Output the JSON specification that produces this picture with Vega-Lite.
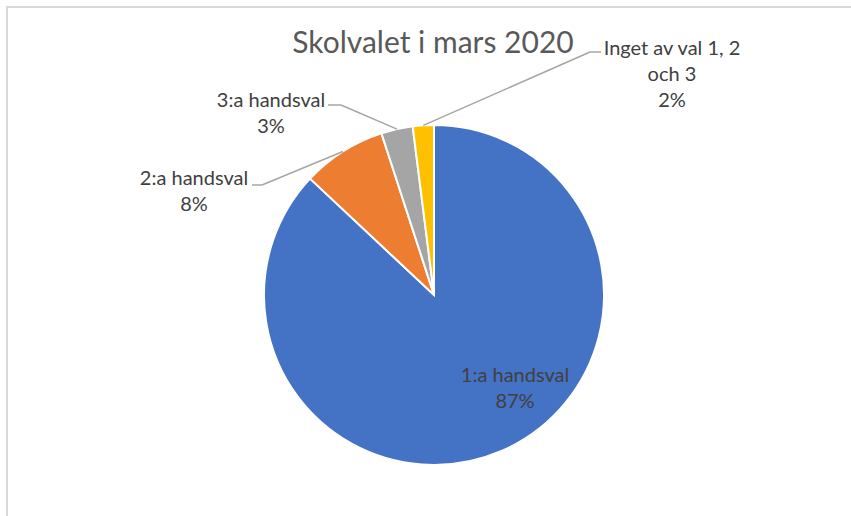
{
  "$schema": "https://vega.github.io/schema/vega-lite/v6.json",
  "width": 844,
  "height": 509,
  "autosize": {"type": "none"},
  "padding": {"left": 7, "top": 7, "right": 0, "bottom": 0},
  "background": "white",
  "config": {
    "view": {"stroke": "#d9d9d9", "strokeWidth": 2, "strokeDash": [844, 1353, 509]},
    "font": "Lato",
    "axis": {"disable": true}
  },
  "title": {
    "text": "Skolvalet i mars 2020",
    "font": "Lato",
    "fontSize": 30,
    "fontWeight": "normal",
    "color": "#595959",
    "anchor": "middle",
    "frame": "group",
    "orient": "top",
    "baseline": "alphabetic",
    "offset": -48,
    "dx": 4,
    "dy": 28
  },
  "data": {
    "values": [
      {"category": "1:a handsval", "label": "1:a handsval", "pct": 87, "order": 1},
      {"category": "2:a handsval", "label": "2:a handsval", "pct": 8, "order": 2},
      {"category": "3:a handsval", "label": "3:a handsval", "pct": 3, "order": 3},
      {"category": "Inget av val 1, 2 och 3", "label": "Inget av val 1, 2\noch 3", "pct": 2, "order": 4}
    ]
  },
  "transform": [
    {"window": [{"op": "sum", "field": "pct", "as": "cum"}], "sort": [{"field": "order"}], "frame": [null, 0]},
    {"calculate": "2*PI*(datum.cum - datum.pct/2)/100", "as": "mid"},
    {"calculate": "sin(datum.mid)", "as": "sx"},
    {"calculate": "cos(datum.mid)", "as": "sy"},
    {"calculate": "datum.label + '\\n' + datum.pct + '%'", "as": "text"}
  ],
  "layer": [
    {
      "mark": {"type": "arc", "outerRadius": 170, "stroke": "white", "strokeWidth": 2},
      "encoding": {
        "theta": {"field": "pct", "type": "quantitative", "stack": true},
        "order": {"field": "order", "type": "quantitative"},
        "color": {
          "field": "category",
          "type": "nominal",
          "scale": {
            "domain": ["1:a handsval", "2:a handsval", "3:a handsval", "Inget av val 1, 2 och 3"],
            "range": ["#4472C4", "#ED7D31", "#A5A5A5", "#FFC000"]
          },
          "legend": null
        },
        "x": {"datum": 0, "type": "quantitative", "scale": {"domain": [-2.511765, 2.452941], "nice": false, "zero": false}, "axis": null},
        "y": {"datum": 0, "type": "quantitative", "scale": {"domain": [-1.3, 1.694118], "nice": false, "zero": false}, "axis": null}
      }
    },
    {
      "transform": [{"filter": "datum.order === 1"}],
      "mark": {"type": "text", "font": "Lato", "fontSize": 20, "color": "#404040", "align": "center", "baseline": "alphabetic", "lineBreak": "\n", "lineHeight": 26},
      "encoding": {
        "text": {"field": "text"},
        "x": {"datum": 0.4765, "type": "quantitative"},
        "y": {"datum": -0.5118, "type": "quantitative"}
      }
    },
    {
      "transform": [{"filter": "datum.order === 2"}],
      "layer": [
        {
          "mark": {"type": "rule", "color": "#a6a6a6", "strokeWidth": 1.5},
          "encoding": {
            "x": {"field": "sx", "type": "quantitative"},
            "y": {"field": "sy", "type": "quantitative"},
            "x2": {"datum": -1.0118},
            "y2": {"datum": 0.6471}
          }
        },
        {
          "mark": {"type": "rule", "color": "#a6a6a6", "strokeWidth": 1.5},
          "encoding": {
            "x": {"datum": -1.0118, "type": "quantitative"},
            "x2": {"datum": -1.0706},
            "y": {"datum": 0.6471, "type": "quantitative"}
          }
        },
        {
          "mark": {"type": "text", "font": "Lato", "fontSize": 20, "color": "#404040", "align": "center", "baseline": "alphabetic", "lineBreak": "\n", "lineHeight": 26},
          "encoding": {
            "text": {"field": "text"},
            "x": {"datum": -1.4118, "type": "quantitative"},
            "y": {"datum": 0.6471, "type": "quantitative"}
          }
        }
      ]
    },
    {
      "transform": [{"filter": "datum.order === 3"}],
      "layer": [
        {
          "mark": {"type": "rule", "color": "#a6a6a6", "strokeWidth": 1.5},
          "encoding": {
            "x": {"field": "sx", "type": "quantitative"},
            "y": {"field": "sy", "type": "quantitative"},
            "x2": {"datum": -0.5471},
            "y2": {"datum": 1.1176}
          }
        },
        {
          "mark": {"type": "rule", "color": "#a6a6a6", "strokeWidth": 1.5},
          "encoding": {
            "x": {"datum": -0.5471, "type": "quantitative"},
            "x2": {"datum": -0.6235},
            "y": {"datum": 1.1176, "type": "quantitative"}
          }
        },
        {
          "mark": {"type": "text", "font": "Lato", "fontSize": 20, "color": "#404040", "align": "center", "baseline": "alphabetic", "lineBreak": "\n", "lineHeight": 26},
          "encoding": {
            "text": {"field": "text"},
            "x": {"datum": -0.9588, "type": "quantitative"},
            "y": {"datum": 1.1059, "type": "quantitative"}
          }
        }
      ]
    },
    {
      "transform": [{"filter": "datum.order === 4"}],
      "layer": [
        {
          "mark": {"type": "rule", "color": "#a6a6a6", "strokeWidth": 1.5},
          "encoding": {
            "x": {"field": "sx", "type": "quantitative"},
            "y": {"field": "sy", "type": "quantitative"},
            "x2": {"datum": 0.9176},
            "y2": {"datum": 1.4294}
          }
        },
        {
          "mark": {"type": "rule", "color": "#a6a6a6", "strokeWidth": 1.5},
          "encoding": {
            "x": {"datum": 0.9176, "type": "quantitative"},
            "x2": {"datum": 0.9824},
            "y": {"datum": 1.4294, "type": "quantitative"}
          }
        },
        {
          "mark": {"type": "text", "font": "Lato", "fontSize": 20, "color": "#404040", "align": "center", "baseline": "alphabetic", "lineBreak": "\n", "lineHeight": 26},
          "encoding": {
            "text": {"field": "text"},
            "x": {"datum": 1.4, "type": "quantitative"},
            "y": {"datum": 1.4118, "type": "quantitative"}
          }
        }
      ]
    }
  ]
}
